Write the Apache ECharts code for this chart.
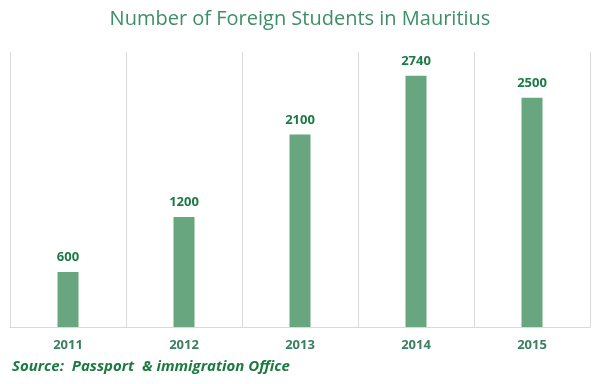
<!DOCTYPE html>
<html>
<head>
<meta charset="utf-8">
<script src="https://cdn.jsdelivr.net/npm/echarts@6/dist/echarts.min.js"></script>
<style>html,body{margin:0;padding:0;background:#fff}#c{width:600px;height:384px}</style>
</head>
<body>
<div id="c"></div>
<script>
const categories = ['2011', '2012', '2013', '2014', '2015'];
const students = [600, 1200, 2100, 2740, 2500];
const titleText = 'Number of Foreign Students in Mauritius';
const sourceText = 'Source:  Passport  & immigration Office';

const chart = echarts.init(document.getElementById('c'), null, {renderer: 'canvas'});
chart.setOption({
  animation: false,
  backgroundColor: '#ffffff',
  title: {
    text: titleText,
    left: 'center',
    top: 4,
    textStyle: {color: '#3d8f68', fontSize: 20, fontWeight: 'normal', fontFamily: 'Open Sans'}
  },
  grid: {left: 10, right: 10, top: 52, bottom: 57},
  xAxis: {
    type: 'category',
    data: categories,
    boundaryGap: true,
    axisLine: {show: true, lineStyle: {color: '#d9d9d9', width: 1}},
    axisTick: {show: false},
    splitLine: {show: true, lineStyle: {color: '#d9d9d9', width: 1}},
    axisLabel: {color: '#3a7f60', fontSize: 13, fontWeight: 'bold', fontFamily: 'Open Sans', margin: 12}
  },
  yAxis: {
    type: 'value',
    min: 0,
    max: 3000,
    show: false,
    splitLine: {show: false}
  },
  series: [{
    type: 'bar',
    data: students,
    barWidth: 21,
    itemStyle: {color: '#68a67f'},
    label: {
      show: true,
      position: 'top',
      distance: 8,
      color: '#1b7a45',
      fontSize: 13,
      fontWeight: 'bold',
      fontFamily: 'Open Sans'
    }
  }],
  graphic: [{
    type: 'text',
    left: 12,
    top: 359,
    style: {
      text: sourceText,
      fill: '#1b7a40',
      font: 'italic bold 15px "Open Sans"'
    }
  }]
});
</script>
</body>
</html>
